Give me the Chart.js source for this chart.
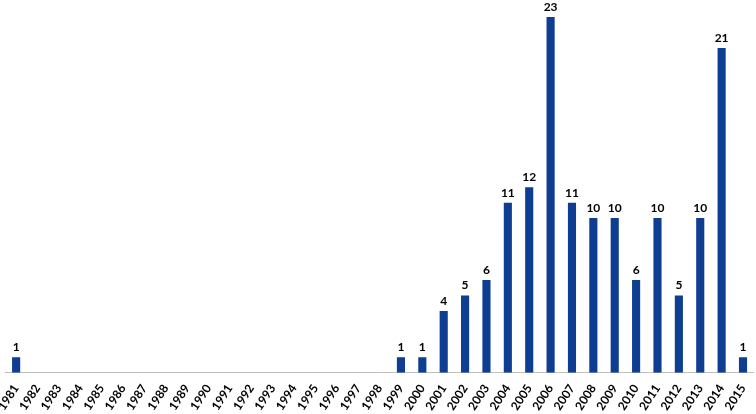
<!DOCTYPE html>
<html>
<head>
<meta charset="utf-8">
<script src="https://cdn.jsdelivr.net/npm/chart.js@4"></script>
<style>
  html, body { margin: 0; padding: 0; background: #fff; }
  #wrap { width: 756px; height: 414px; }
</style>
</head>
<body>
<div id="wrap"><canvas id="chart"></canvas></div>
<script>
// years on the x axis
const years = [];
for (let y = 1981; y <= 2015; y++) years.push(String(y));

// count per year
const counts = [
  1, 0, 0, 0, 0, 0, 0, 0, 0, 0,
  0, 0, 0, 0, 0, 0, 0, 0, 1, 1,
  4, 5, 6, 11, 12, 23, 11, 10, 10, 6,
  10, 5, 10, 21, 1,
];

// labels on top of the non-empty bars
const valueLabels = {
  id: "valueLabels",
  afterDatasetsDraw(chart) {
    const { ctx } = chart;
    const meta = chart.getDatasetMeta(0);
    ctx.save();
    ctx.font = "bold 12px Lato, 'Open Sans', sans-serif";
    ctx.fillStyle = "#000";
    ctx.textAlign = "center";
    ctx.textBaseline = "bottom";
    meta.data.forEach((bar, i) => {
      if (counts[i] > 0) ctx.fillText(counts[i], bar.x, bar.y - 4);
    });
    ctx.restore();
  },
};

new Chart(document.getElementById("chart"), {
  type: "bar",
  data: {
    labels: years,
    datasets: [
      {
        data: counts,
        backgroundColor: "#0e3d91",
        barPercentage: 0.38,
        categoryPercentage: 1,
      },
    ],
  },
  options: {
    responsive: true,
    maintainAspectRatio: false,
    animation: false,
    layout: { padding: { top: 17, left: 0, right: 0, bottom: 0 } },
    plugins: { legend: { display: false }, tooltip: { enabled: false } },
    scales: {
      x: {
        grid: { display: false },
        border: { color: "#bfbfbf", width: 1 },
        ticks: {
          color: "#000",
          font: { family: "Lato, 'Open Sans', sans-serif", weight: "bold", size: 12 },
          minRotation: 57,
          maxRotation: 57,
          padding: 1,
          autoSkip: false,
        },
      },
      y: {
        display: false,
        min: 0,
        max: 23,
      },
    },
  },
  plugins: [valueLabels],
});
</script>
</body>
</html>
